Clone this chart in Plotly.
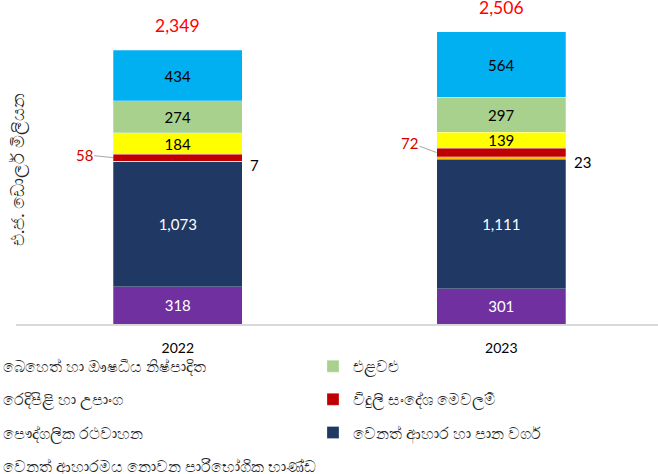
import plotly.graph_objects as go

years = ["2022", "2023"]
other_nonfood = [318, 301]
other_food = [1073, 1111]
vehicles = [7, 23]
telecom = [58, 72]
textiles = [184, 139]
vegetables = [274, 297]
medicine = [434, 564]
totals = [2349, 2506]

series = [
    # name, values, color, label color, legend id, rank
    ("වෙනත් ආහාරමය නොවන පාරිභෝගික භාණ්ඩ", other_nonfood, "#7030a0", "white", "legend", 4),
    ("වෙනත් ආහාර හා පාන වර්ග", other_food, "#203864", "white", "legend2", 3),
    ("පෞද්ගලික රථවාහන", vehicles, "#ffc000", None, "legend", 3),
    ("විදුලි සංදේශ මෙවලම්", telecom, "#c00000", None, "legend2", 2),
    ("රෙදිපිළි හා උපාංග", textiles, "#ffff00", "black", "legend", 2),
    ("එළවළු", vegetables, "#a9d18e", "black", "legend2", 1),
    ("බෙහෙත් හා ඖෂධීය නිෂ්පාදිත", medicine, "#00b0f0", "black", "legend", 1),
]

FONT = "Lato, 'Noto Sans', sans-serif"

fig = go.Figure()
for name, vals, color, lab, leg, rank in series:
    fig.add_trace(go.Bar(
        x=years, y=vals, name=name,
        marker=dict(color=color, line=dict(color="rgba(255,255,255,0.45)", width=0.6)),
        texttemplate="%{y:,}" if lab else None,
        textposition="inside" if lab else "none",
        insidetextanchor="middle",
        textfont=dict(size=15, color=lab or "black", family=FONT),
        legend=leg, legendgroup=name, legendrank=rank,
        hoverinfo="skip",
    ))

annotations = []
# totals
for i, t in enumerate(totals):
    annotations.append(dict(x=i, y=t, xref="x", yref="y", text=f"{t:,}",
                            showarrow=False, yanchor="bottom", yshift=12,
                            font=dict(size=17.5, color="#ff0000", family=FONT)))
# telecom labels with leader lines (left)
tel_offsets = [(-29, -3), (-27, -10)]
for i in range(2):
    base = other_nonfood[i] + other_food[i] + vehicles[i]
    mid = base + telecom[i] / 2
    ax, ay = tel_offsets[i]
    annotations.append(dict(x=i - 0.2, y=mid, xref="x", yref="y", text=str(telecom[i]),
                            showarrow=True, arrowhead=0, arrowwidth=1, arrowcolor="#a6a6a6",
                            ax=ax, ay=ay, xanchor="center",
                            font=dict(size=15, color="#d00000", family=FONT)))
# vehicles labels (right)
for i in range(2):
    base = other_nonfood[i] + other_food[i]
    mid = base + vehicles[i] / 2
    annotations.append(dict(x=i + 0.2, y=mid, xref="x", yref="y", text=str(vehicles[i]),
                            showarrow=False, xanchor="left", xshift=6, yshift=-4,
                            font=dict(size=15, color="black", family=FONT)))
# y axis title
annotations.append(dict(x=0, y=0.475, xref="paper", yref="paper", text="එ.ජ. ඩොලර් මිලියන",
                        textangle=-90, showarrow=False, xanchor="center", xshift=1,
                        font=dict(size=18, color="#262626", family=FONT)))

fig.update_layout(
    width=658, height=474,
    margin=dict(l=16, r=0, t=0, b=150, autoexpand=False),
    paper_bgcolor="white", plot_bgcolor="white",
    barmode="stack", bargap=0.6,
    uniformtext=dict(minsize=15, mode="show"),
    font=dict(family=FONT, color="#262626"),
    xaxis=dict(type="category", range=[-0.5, 1.4845], showline=True, linecolor="#d9d9d9",
               linewidth=1.5, showgrid=False, ticks="", ticklabelstandoff=10,
               tickfont=dict(size=14, color="black", family=FONT)),
    yaxis=dict(range=[0, 2779], visible=False, showgrid=False, zeroline=False),
    annotations=annotations,
    showlegend=True,
    legend=dict(x=-0.0826, y=-0.079, xanchor="left", yanchor="top", orientation="v",
                traceorder="grouped", tracegroupgap=10, bgcolor="rgba(0,0,0,0)",
                font=dict(size=15.5, color="#262626", family=FONT)),
    legend2=dict(x=0.4626, y=-0.079, xanchor="left", yanchor="top", orientation="v",
                 traceorder="grouped", tracegroupgap=10, bgcolor="rgba(0,0,0,0)",
                 font=dict(size=15.5, color="#262626", family=FONT)),
)

fig.write_html("out.html", config={"displayModeBar": False},
               post_script="document.body.style.margin='0';document.body.style.padding='0';")
